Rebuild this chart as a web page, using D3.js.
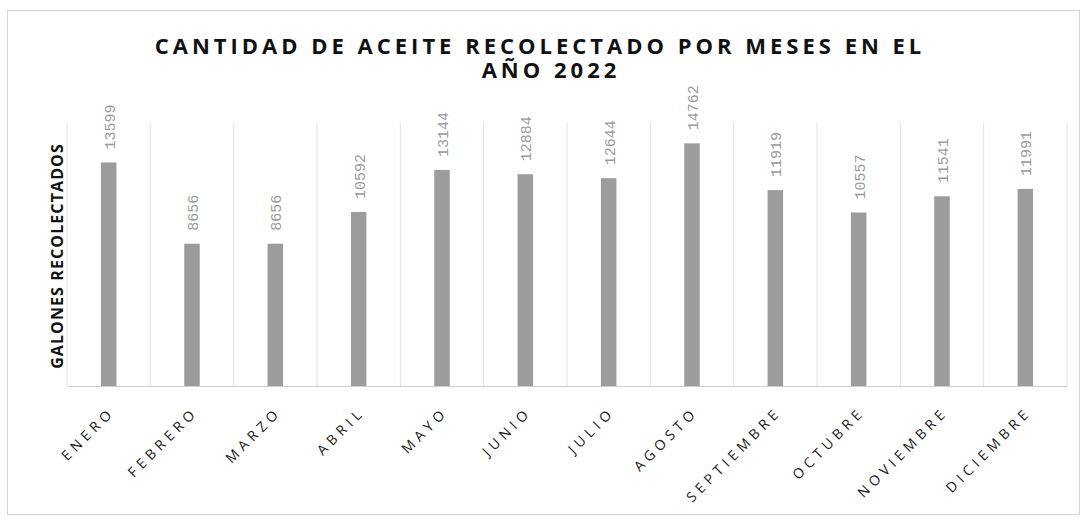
<!DOCTYPE html>
<html>
<head>
<meta charset="utf-8">
<script src="https://cdn.jsdelivr.net/npm/d3@7"></script>
<style>
  body { margin: 0; background: #fff; }
  svg { display: block; }
</style>
</head>
<body>
<svg id="chart"></svg>
<script>
// values
let months = ['ENERO', 'FEBRERO', 'MARZO', 'ABRIL', 'MAYO', 'JUNIO', 'JULIO',
              'AGOSTO', 'SEPTIEMBRE', 'OCTUBRE', 'NOVIEMBRE', 'DICIEMBRE']
let galones = [13599, 8656, 8656, 10592, 13144, 12884, 12644, 14762, 11919, 10557, 11541, 11991]
let titleLines = ['CANTIDAD DE ACEITE RECOLECTADO POR MESES EN EL', 'AÑO 2022']
let yLabel = 'GALONES RECOLECTADOS'
let yMax = 16000

let width = 1085
let height = 520
let plotLeft = 67
let plotRight = 1067
let plotTop = 123
let plotBottom = 386
let barWidth = 15.5

let values = months.map((m, i) => ({ month: m, value: galones[i] }))

let svg = d3.select('#chart')
    .attr('width', width)
    .attr('height', height)

// outer frame
svg.append('rect')
    .attr('x', 7.5)
    .attr('y', 10.5)
    .attr('width', 1072)
    .attr('height', 504)
    .attr('fill', 'none')
    .attr('stroke', '#d4d4d4')

let xScale = d3.scaleBand()
    .domain(months)
    .range([plotLeft, plotRight])

let yScale = d3.scaleLinear()
    .domain([0, yMax])
    .range([plotBottom, plotTop])

// vertical gridlines at category edges
let edges = months.map(m => xScale(m)).concat([plotRight])
svg.append('g')
    .selectAll('line')
    .data(edges)
    .enter()
    .append('line')
    .attr('x1', d => d)
    .attr('x2', d => d)
    .attr('y1', yScale(yMax))
    .attr('y2', yScale(0))
    .attr('stroke', '#e2e2e2')

// bars
svg.append('g')
    .selectAll('rect')
    .data(values)
    .enter()
    .append('rect')
    .attr('x', d => xScale(d.month) + xScale.bandwidth() / 2 - barWidth / 2)
    .attr('y', d => yScale(d.value))
    .attr('width', barWidth)
    .attr('height', d => yScale(0) - yScale(d.value))
    .attr('fill', '#9c9c9c')

// x axis line and labels
let xAxis = d3.axisBottom(xScale).tickSize(0).tickPadding(0)
let gx = svg.append('g')
    .attr('transform', 'translate(0,' + yScale(0) + ')')
    .call(xAxis)
gx.select('.domain').attr('stroke', '#cfcfcf')
gx.selectAll('.tick text')
    .attr('text-anchor', 'end')
    .attr('transform', 'translate(7,27) rotate(-45)')
    .attr('dy', 0)
    .attr('y', 0)
    .attr('fill', '#1a1a1a')
    .style('font-family', '"Open Sans", sans-serif')
    .style('font-size', '14px')
    .style('letter-spacing', '4.6px')

// value labels
svg.append('g')
    .selectAll('text')
    .data(values)
    .enter()
    .append('text')
    .attr('transform', d => 'translate(' + (xScale(d.month) + xScale.bandwidth() / 2 + 6) + ',' + (yScale(d.value) - 13) + ') rotate(-90)')
    .attr('fill', '#9a9a9a')
    .style('font-family', '"Liberation Mono", monospace')
    .style('font-size', '15px')
    .text(d => d.value)

// y axis title
svg.append('text')
    .attr('transform', 'translate(63,256) rotate(-90)')
    .attr('text-anchor', 'middle')
    .attr('fill', '#111')
    .style('font-family', '"Open Sans", sans-serif')
    .style('font-weight', '700')
    .style('font-size', '16px')
    .style('letter-spacing', '1.1px')
    .text(yLabel)

// chart title
svg.append('g')
    .selectAll('text')
    .data(titleLines)
    .enter()
    .append('text')
    .attr('x', (d, i) => i === 0 ? 540 : 551)
    .attr('y', (d, i) => 54 + i * 24)
    .attr('text-anchor', 'middle')
    .attr('fill', '#111')
    .style('font-family', '"Open Sans", sans-serif')
    .style('font-weight', '700')
    .style('font-size', '22px')
    .style('letter-spacing', '4px')
    .text(d => d)
</script>
</body>
</html>
